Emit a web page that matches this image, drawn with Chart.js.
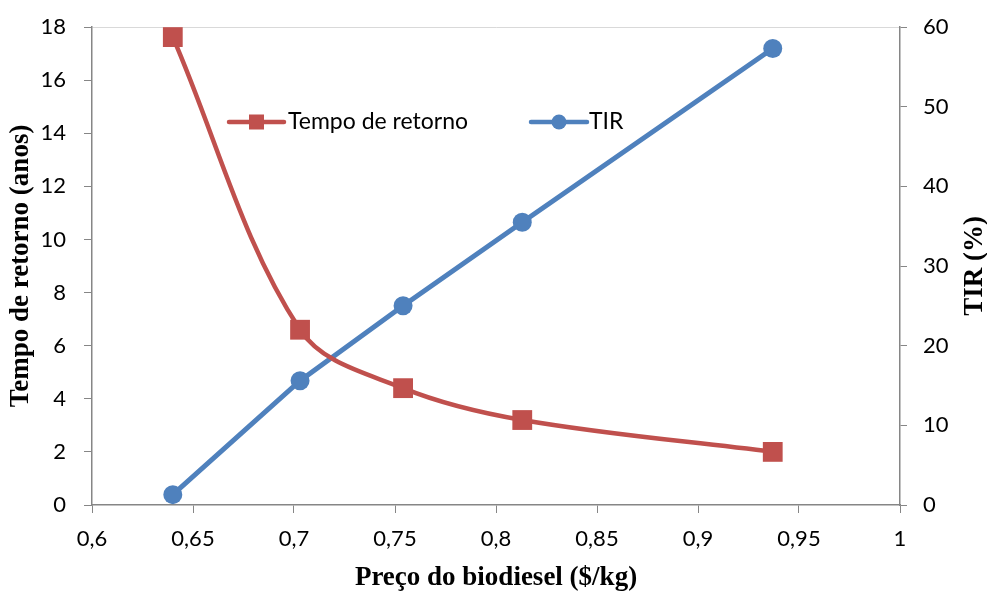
<!DOCTYPE html>
<html><head><meta charset="utf-8">
<script src="https://cdn.jsdelivr.net/npm/chart.js@4.4.0/dist/chart.umd.min.js"></script>
<style>html,body{margin:0;padding:0;background:#fff}</style>
</head><body>
<canvas id="c" width="987" height="592"></canvas>
<script>
// Data
const prices = [0.64, 0.703, 0.754, 0.813, 0.937];
const payback = [17.62, 6.6, 4.4, 3.2, 2.0];
const tir = [1.3, 15.6, 25.0, 35.5, 57.3];
const seriesNames = ['Tempo de retorno', 'TIR'];
const xTitle = 'Preço do biodiesel ($/kg)';
const yTitle = 'Tempo de retorno (anos)';
const y1Title = 'TIR (%)';

const RED = '#C0504D', BLUE = '#4F81BD', AX = '#868686';
const tickFont = {family: 'Lato', size: 22};
const titleFont = {family: 'Liberation Serif', size: 27, weight: 'bold', lineHeight: 1};
const fmt = v => (Math.round(v * 100) / 100).toString().replace('.', ',');

const legendPlugin = {
  id: 'customLegend',
  afterDatasetsDraw(chart) {
    const ctx = chart.ctx;
    const y = 122;
    const items = [
      {x0: 229, x1: 284, color: RED, shape: 'rect', text: seriesNames[0], tx: 288},
      {x0: 531, x1: 587, color: BLUE, shape: 'circle', text: seriesNames[1], tx: 589}
    ];
    ctx.save();
    items.forEach(it => {
      ctx.strokeStyle = it.color; ctx.lineWidth = 4.5; ctx.lineCap = 'round';
      ctx.beginPath(); ctx.moveTo(it.x0, y); ctx.lineTo(it.x1, y); ctx.stroke();
      ctx.fillStyle = it.color;
      const cx = (it.x0 + it.x1) / 2;
      if (it.shape === 'rect') ctx.fillRect(cx - 7.5, y - 7.5, 15, 15);
      else { ctx.beginPath(); ctx.arc(cx, y, 7.5, 0, Math.PI * 2); ctx.fill(); }
      ctx.fillStyle = '#000'; ctx.font = '23px Lato'; ctx.textBaseline = 'middle'; ctx.textAlign = 'left';
      ctx.fillText(it.text, it.tx, y);
    });
    // right axis title (reads bottom-to-top)
    const ca = chart.chartArea;
    ctx.translate(975, (ca.top + ca.bottom) / 2);
    ctx.rotate(-Math.PI / 2);
    ctx.font = 'bold 27px "Liberation Serif"'; ctx.textAlign = 'center'; ctx.textBaseline = 'middle';
    ctx.fillText(y1Title, 0, 0);
    ctx.restore();
  }
};

new Chart(document.getElementById('c'), {
  type: 'line',
  data: {
    datasets: [
      {
        label: seriesNames[0],
        data: prices.map((p, i) => ({x: p, y: payback[i]})),
        yAxisID: 'y',
        borderColor: RED, backgroundColor: RED,
        borderWidth: 4.5, tension: 0.35,
        pointStyle: 'rect', pointRadius: 14, pointHoverRadius: 14,
        pointBorderWidth: 0, clip: false
      },
      {
        label: seriesNames[1],
        data: prices.map((p, i) => ({x: p, y: tir[i]})),
        yAxisID: 'y1',
        borderColor: BLUE, backgroundColor: BLUE,
        borderWidth: 5, tension: 0,
        pointStyle: 'circle', pointRadius: 9.5, pointHoverRadius: 9.5,
        pointBorderWidth: 0, clip: false
      }
    ]
  },
  options: {
    responsive: false,
    animation: false,
    layout: {autoPadding: false, padding: {top: 27, left: 0, right: 0, bottom: 0}},
    plugins: {legend: {display: false}, tooltip: {enabled: false}},
    scales: {
      x: {
        type: 'linear', min: 0.6, max: 1,
        ticks: {stepSize: 0.05, color: '#000', font: tickFont, padding: 13, callback: v => fmt(v), maxRotation: 0},
        grid: {drawOnChartArea: false, tickLength: 8, color: AX, tickColor: AX},
        border: {color: AX, width: 1.5},
        title: {display: true, text: xTitle, color: '#000', font: titleFont, padding: {top: 0, bottom: 0}},
        afterFit: s => { s.height = 87; }
      },
      y: {
        position: 'left', min: 0, max: 18,
        ticks: {stepSize: 2, color: '#000', font: tickFont, padding: 18},
        grid: {
          color: c => (c.tick && c.tick.value === 18) ? '#d9d9d9' : 'rgba(0,0,0,0)',
          tickColor: AX, tickLength: 8
        },
        border: {color: AX, width: 1.5},
        title: {display: true, text: yTitle, color: '#000', font: titleFont, padding: {top: 8, bottom: 0}},
        afterFit: s => { s.width = 92; s.paddingTop = 0; s.paddingBottom = 0; }
      },
      y1: {
        position: 'right', min: 0, max: 60,
        ticks: {stepSize: 10, color: '#000', font: tickFont, padding: 16},
        grid: {drawOnChartArea: false, tickLength: 7, color: AX, tickColor: AX},
        border: {color: AX, width: 1.5},
        afterFit: s => { s.width = 87; s.paddingTop = 0; s.paddingBottom = 0; }
      }
    }
  },
  plugins: [legendPlugin]
});
</script>
</body></html>
